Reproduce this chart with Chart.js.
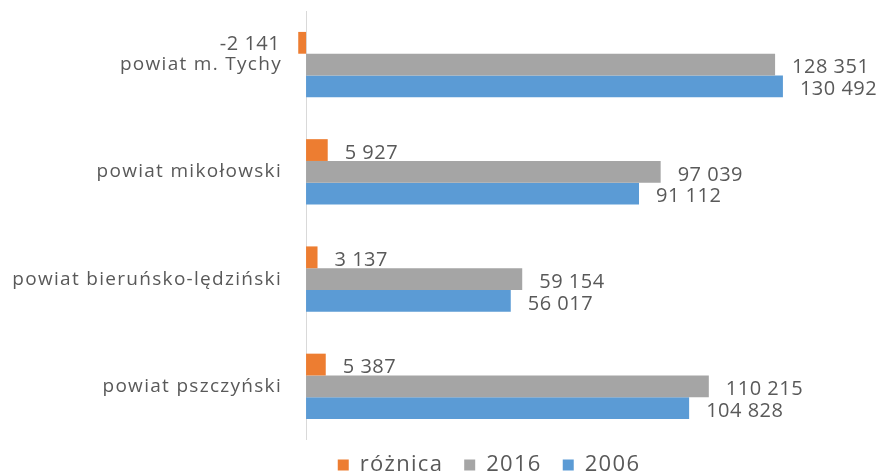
<!DOCTYPE html>
<html lang="pl">
<head>
    <meta charset="UTF-8">
    <title>Ludność powiatów</title>
    <script src="https://cdn.jsdelivr.net/npm/chart.js"></script>
    <style>
        html, body { margin: 0; padding: 0; background: #fff; }
        .wrap { width: 886px; height: 475px; }
    </style>
</head>
<body>
    <div class="wrap"><canvas id="wykres"></canvas></div>
    <script>
        const powiaty = ['powiat m. Tychy', 'powiat mikołowski', 'powiat bieruńsko-lędziński', 'powiat pszczyński'];
        const roznica = [-2141, 5927, 3137, 5387];
        const rok2016 = [128351, 97039, 59154, 110215];
        const rok2006 = [130492, 91112, 56017, 104828];

        const tekst = '#595959';
        const czcionka = "'Open Sans', sans-serif";

        function formatuj(v) {
            const s = Math.abs(v).toString().replace(/\B(?=(\d{3})+(?!\d))/g, ' ');
            return (v < 0 ? '-' : '') + s;
        }

        // odstępy liter (canvas gubi stan przy zmianie rozmiaru, więc ustawiamy przed layoutem i rysowaniem)
        const odstepy = {
            id: 'odstepy',
            beforeLayout(chart) { chart.ctx.letterSpacing = '1.3px'; },
            beforeDraw(chart) { chart.ctx.letterSpacing = '1.3px'; }
        };

        // linia osi przy zerze + etykiety wartości
        const etykiety = {
            id: 'etykiety',
            beforeDatasetsDraw(chart) {
                const ctx = chart.ctx;
                const x0 = chart.scales.x.getPixelForValue(0);
                ctx.save();
                ctx.strokeStyle = '#d9d9d9';
                ctx.lineWidth = 1;
                ctx.beginPath();
                ctx.moveTo(Math.round(x0) + 0.5, chart.chartArea.top);
                ctx.lineTo(Math.round(x0) + 0.5, chart.chartArea.bottom);
                ctx.stroke();
                ctx.restore();
            },
            afterDatasetsDraw(chart) {
                const ctx = chart.ctx;
                ctx.save();
                ctx.font = '20px ' + czcionka;
                ctx.letterSpacing = '0.5px';
                ctx.fillStyle = tekst;
                ctx.textBaseline = 'middle';
                chart.data.datasets.forEach((ds, i) => {
                    chart.getDatasetMeta(i).data.forEach((bar, j) => {
                        const v = ds.data[j];
                        if (v < 0) {
                            ctx.textAlign = 'right';
                            ctx.fillText(formatuj(v), bar.x - 18, bar.y + 1);
                        } else {
                            ctx.textAlign = 'left';
                            ctx.fillText(formatuj(v), bar.x + 17, bar.y + 3);
                        }
                    });
                });
                ctx.restore();
            }
        };

        new Chart(document.getElementById('wykres'), {
            type: 'bar',
            data: {
                labels: powiaty,
                datasets: [
                    { label: 'różnica', data: roznica, backgroundColor: '#ED7D31' },
                    { label: '2016', data: rok2016, backgroundColor: '#A5A5A5' },
                    { label: '2006', data: rok2006, backgroundColor: '#5B9BD5' }
                ]
            },
            options: {
                indexAxis: 'y',
                responsive: true,
                maintainAspectRatio: false,
                animation: false,
                // ujemny prawy margines: legenda wyśrodkowana jak w oryginale
                layout: { padding: { left: 0, top: 11, right: -92, bottom: -11 } },
                datasets: { bar: { categoryPercentage: 0.61, barPercentage: 1 } },
                scales: {
                    x: {
                        min: -3300,
                        max: 158700,
                        display: false
                    },
                    y: {
                        grid: { display: false, drawTicks: false },
                        border: { display: false },
                        ticks: { color: tekst, font: { family: czcionka, size: 19 }, padding: 12 },
                        afterFit(s) {
                            s.width = 294;
                            s.paddingTop = 0;
                            s.paddingBottom = 0;
                        }
                    }
                },
                plugins: {
                    legend: {
                        position: 'bottom',
                        labels: {
                            color: tekst,
                            font: { family: czcionka, size: 22 },
                            boxWidth: 11,
                            boxHeight: 11,
                            padding: 14,
                            generateLabels(chart) {
                                const items = Chart.defaults.plugins.legend.labels.generateLabels(chart);
                                items.forEach((it, i) => { if (i < items.length - 1) it.text += ' '; });
                                return items;
                            }
                        }
                    },
                    tooltip: { enabled: false }
                }
            },
            plugins: [odstepy, etykiety]
        });
    </script>
</body>
</html>
